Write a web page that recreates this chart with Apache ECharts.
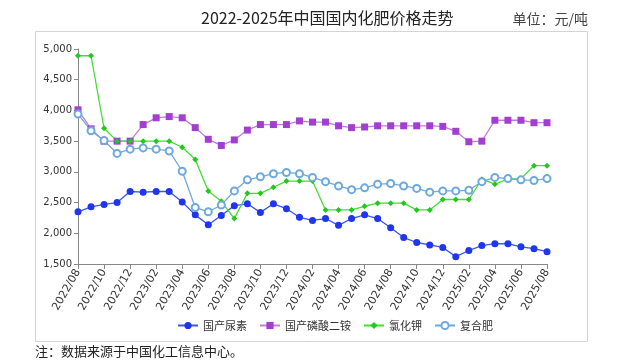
<!DOCTYPE html>
<html>
<head>
<meta charset="utf-8">
<script src="https://cdn.jsdelivr.net/npm/echarts@6/dist/echarts.min.js"></script>
<style>
html,body{margin:0;padding:0;background:#fff;}
#chart{width:620px;height:362px;}
</style>
</head>
<body>
<div id="chart"></div>
<script>
var categories = ['2022/08','2022/09','2022/10','2022/11','2022/12','2023/01','2023/02','2023/03','2023/04','2023/05','2023/06','2023/07','2023/08','2023/09','2023/10','2023/11','2023/12','2024/01','2024/02','2024/03','2024/04','2024/05','2024/06','2024/07','2024/08','2024/09','2024/10','2024/11','2024/12','2025/01','2025/02','2025/03','2025/04','2025/05','2025/06','2025/07','2025/08'];
var urea = [2350,2430,2470,2500,2680,2670,2680,2680,2510,2300,2140,2290,2450,2480,2340,2480,2400,2260,2210,2240,2130,2240,2300,2240,2090,1930,1850,1810,1770,1620,1720,1800,1830,1830,1780,1750,1700];
var dap = [4010,3700,3500,3500,3500,3770,3880,3900,3880,3720,3530,3430,3520,3680,3770,3770,3770,3830,3810,3810,3750,3720,3730,3750,3750,3750,3750,3750,3740,3660,3490,3500,3840,3840,3840,3800,3800];
var potash = [4890,4890,3710,3500,3500,3500,3500,3500,3400,3200,2690,2520,2240,2650,2650,2750,2850,2850,2850,2380,2380,2380,2440,2490,2490,2490,2380,2380,2550,2550,2550,2880,2800,2880,2890,3100,3100];
var compound = [3940,3670,3510,3300,3370,3390,3370,3340,3010,2420,2350,2460,2690,2870,2920,2970,2990,2970,2910,2840,2770,2710,2740,2800,2810,2770,2730,2670,2690,2690,2700,2840,2910,2890,2870,2860,2890];
var seriesNames = ['国产尿素','国产磷酸二铵','氯化钾','复合肥'];
var titleText = '2022-2025年中国国内化肥价格走势';
var unitText = '单位：元/吨';
var noteText = '注：数据来源于中国化工信息中心。';

var chart = echarts.init(document.getElementById('chart'), null, {renderer:'canvas'});
var cjk = '"Noto Sans CJK SC", sans-serif';
chart.setOption({
  animation: false,
  backgroundColor: '#fff',
  title: [{
    text: titleText, left: 196, top: 5,
    textStyle: {fontFamily: cjk, fontSize: 16, fontWeight: 'normal', color: '#222'}
  }],
  graphic: [
    {type:'rect', shape:{x:35.5, y:31.5, width:552, height:310}, style:{fill:'none', stroke:'#d4d4d4', lineWidth:1}, silent:true, z:-1},
    {type:'text', right: 32, top: 12, style:{text: unitText, font: '14px "Noto Sans CJK SC"', fill:'#444'}},
    {type:'text', left: 35, top: 345, style:{text: noteText, font: '13px "Noto Sans CJK SC"', fill:'#222'}}
  ],
  legend: {
    data: seriesNames, left: 172, top: 315, itemWidth: 20, itemHeight: 9, itemGap: 12,
    textStyle: {fontFamily: cjk, fontSize: 11, color: '#333'}
  },
  grid: {left: 78, right: 73, top: 49, bottom: 98},
  xAxis: {
    type: 'category', data: categories, boundaryGap: false,
    axisLine: {lineStyle: {color: '#888'}},
    axisTick: {interval: 1, length: 5, lineStyle: {color: '#888'}},
    axisLabel: {interval: 1, rotate: 60, fontFamily: 'DejaVu Sans', fontSize: 11, color: '#333', margin: 6}
  },
  yAxis: {
    type: 'value', min: 1500, max: 5000, interval: 500,
    axisLine: {show: true, lineStyle: {color: '#888'}},
    axisTick: {show: true, length: 4, lineStyle: {color: '#888'}},
    splitLine: {show: false},
    axisLabel: {fontFamily: 'DejaVu Sans', fontSize: 10, color: '#333', margin: 6,
      formatter: function(v){ return v.toString().replace(/\B(?=(\d{3})+(?!\d))/g, ','); }}
  },
  series: [
    {name: seriesNames[0], type: 'line', data: urea, symbol: 'circle', symbolSize: 7,
     itemStyle: {color: '#1f35f0'}, lineStyle: {color: '#3a55f0', width: 1.3}},
    {name: seriesNames[1], type: 'line', data: dap, symbol: 'rect', symbolSize: 7,
     itemStyle: {color: '#a23fd2'}, lineStyle: {color: '#c47ae0', width: 1.3}},
    {name: seriesNames[2], type: 'line', data: potash, symbol: 'diamond', symbolSize: 6,
     itemStyle: {color: '#22c81e'}, lineStyle: {color: '#44dd33', width: 1.3}},
    {name: seriesNames[3], type: 'line', data: compound, symbol: 'emptyCircle', symbolSize: 7,
     itemStyle: {color: '#6ea9dd', borderColor: '#6ea9dd', borderWidth: 1.2}, lineStyle: {color: '#6ea9dd', width: 1.3}}
  ]
});
</script>
</body>
</html>
